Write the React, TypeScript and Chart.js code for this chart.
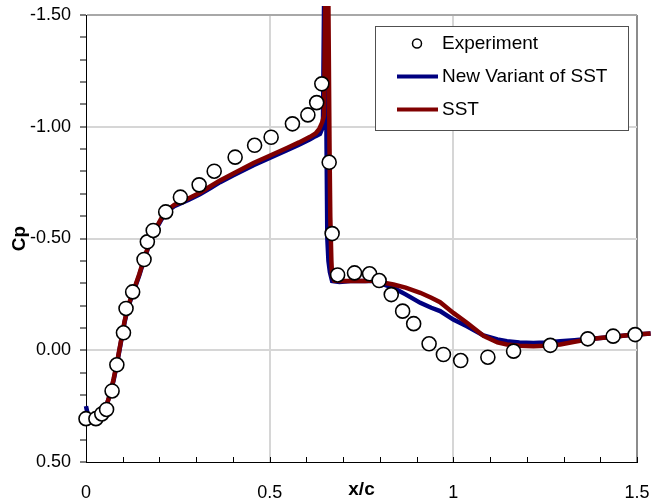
import React, { useEffect, useRef } from "react";
import { Chart, registerables } from "chart.js";

Chart.register(...registerables);

// ---- Data ----
const seriesLabels = ["Experiment", "New Variant of SST", "SST"];

const expX = [
  0.0, 0.027, 0.043, 0.056, 0.071, 0.084, 0.102, 0.109, 0.127, 0.158, 0.167,
  0.183, 0.217, 0.257, 0.308, 0.349, 0.406, 0.459, 0.504, 0.562, 0.604, 0.628,
  0.642, 0.662, 0.67, 0.685, 0.731, 0.772, 0.798, 0.831, 0.862, 0.892, 0.934,
  0.973, 1.02, 1.094, 1.164, 1.264, 1.366, 1.435, 1.495,
];
const expCp = [
  0.306, 0.306, 0.285, 0.265, 0.182, 0.065, -0.078, -0.187, -0.261, -0.406,
  -0.485, -0.536, -0.619, -0.685, -0.74, -0.801, -0.864, -0.917, -0.953, -1.013,
  -1.053, -1.108, -1.192, -0.841, -0.522, -0.337, -0.346, -0.342, -0.312,
  -0.249, -0.175, -0.119, -0.029, 0.019, 0.046, 0.031, 0.004, -0.022, -0.051,
  -0.063, -0.07,
];

const sstX = [
  0.0, 0.02, 0.04, 0.055, 0.065, 0.075, 0.085, 0.095, 0.105, 0.115, 0.13,
  0.145, 0.16, 0.175, 0.19, 0.205, 0.22, 0.24, 0.26, 0.28, 0.31, 0.34, 0.365,
  0.4, 0.456, 0.5, 0.547, 0.58, 0.61, 0.625, 0.635, 0.643, 0.648, 0.651, 0.66,
  0.663, 0.665, 0.668, 0.67, 0.676, 0.69, 0.72, 0.76, 0.78, 0.8, 0.837, 0.87,
  0.91, 0.94, 0.964, 1.0, 1.037, 1.082, 1.12, 1.146, 1.18, 1.218, 1.25, 1.291,
  1.33, 1.364, 1.4, 1.436, 1.48, 1.537,
];
const sstCp = [
  0.3, 0.305, 0.29, 0.25, 0.2, 0.13, 0.05, -0.04, -0.13, -0.2, -0.27, -0.34,
  -0.42, -0.49, -0.545, -0.59, -0.625, -0.65, -0.665, -0.68, -0.705, -0.735,
  -0.76, -0.79, -0.838, -0.87, -0.905, -0.93, -0.955, -0.97, -0.99, -1.02,
  -1.05, -1.53, -1.53, -0.9, -0.6, -0.4, -0.33, -0.312, -0.31, -0.31, -0.31,
  -0.312, -0.305, -0.294, -0.28, -0.257, -0.235, -0.215, -0.167, -0.123,
  -0.065, -0.035, -0.026, -0.02, -0.018, -0.02, -0.026, -0.038, -0.048, -0.055,
  -0.06, -0.068, -0.075,
];

const nvX = [
  0.0, 0.005, 0.02, 0.04, 0.055, 0.065, 0.075, 0.085, 0.095, 0.105, 0.115,
  0.13, 0.145, 0.16, 0.175, 0.19, 0.205, 0.22, 0.24, 0.26, 0.28, 0.31, 0.34,
  0.365, 0.4, 0.456, 0.5, 0.547, 0.58, 0.61, 0.625, 0.637, 0.645, 0.648, 0.652,
  0.655, 0.657, 0.66, 0.664, 0.67, 0.69, 0.72, 0.76, 0.78, 0.8, 0.837, 0.87,
  0.91, 0.94, 0.964, 1.0, 1.037, 1.082, 1.12, 1.146, 1.18, 1.218, 1.25, 1.291,
  1.33, 1.364, 1.4, 1.436, 1.48, 1.537,
];
const nvCp = [
  0.25, 0.29, 0.3, 0.285, 0.25, 0.2, 0.135, 0.055, -0.035, -0.125, -0.195,
  -0.265, -0.335, -0.415, -0.485, -0.54, -0.584, -0.619, -0.644, -0.659, -0.674,
  -0.698, -0.727, -0.752, -0.782, -0.828, -0.86, -0.895, -0.92, -0.944,
  -0.958, -0.968, -1.0, -1.53, -1.53, -0.9, -0.5, -0.4, -0.35, -0.31, -0.305,
  -0.31, -0.31, -0.31, -0.3, -0.279, -0.25, -0.212, -0.19, -0.175, -0.137,
  -0.107, -0.066, -0.048, -0.04, -0.035, -0.033, -0.035, -0.04, -0.045, -0.05,
  -0.055, -0.06, -0.068, -0.075,
];

const xRange = [0, 1.5];
const yRange = [-1.5, 0.5];
const minorStep = 0.1;
const majorStep = 0.5;

const FONT = "'Liberation Sans', Arial, sans-serif";
const NAVY = "#000080";
const MAROON = "#800000";

const isMajor = (v: number) =>
  Math.abs(Math.round(v / majorStep) * majorStep - v) < 1e-6;
const near = (a: number, b: number) => Math.abs(a - b) < 1e-6;

const toPts = (xs: number[], ys: number[]) =>
  xs.map((x, i) => ({ x, y: ys[i] }));

const innerTicks = {
  id: "innerTicks",
  beforeDatasetsDraw(chart: any) {
    const xs = chart.scales.x;
    const { ctx, chartArea } = chart;
    ctx.save();
    ctx.strokeStyle = "#000";
    ctx.lineWidth = 1;
    xs.ticks.forEach((t: any) => {
      const px = Math.round(xs.getPixelForValue(t.value)) + 0.5;
      ctx.beginPath();
      ctx.moveTo(px, chartArea.bottom);
      ctx.lineTo(px, chartArea.bottom - 5);
      ctx.stroke();
    });
    ctx.restore();
  },
};

const boxLegend = {
  id: "boxLegend",
  afterDraw(chart: any) {
    const { ctx, chartArea } = chart;
    const w = 253;
    const h = 104;
    const right = chartArea.right - 9;
    const top = chartArea.top + 11;
    const left = right - w;
    ctx.save();
    ctx.fillStyle = "#fff";
    ctx.fillRect(left, top, w, h);
    ctx.strokeStyle = "#505050";
    ctx.lineWidth = 1;
    ctx.strokeRect(Math.round(left) + 0.5, Math.round(top) + 0.5, w, h);
    const rows = [top + 17.5, top + 50.5, top + 83.5];
    const markX = left + 42;
    ctx.beginPath();
    ctx.arc(markX, rows[0], 4.5, 0, Math.PI * 2);
    ctx.fillStyle = "#fff";
    ctx.fill();
    ctx.strokeStyle = "#000";
    ctx.lineWidth = 1.5;
    ctx.stroke();
    [NAVY, MAROON].forEach((c, i) => {
      ctx.beginPath();
      ctx.moveTo(left + 22, rows[i + 1]);
      ctx.lineTo(left + 63, rows[i + 1]);
      ctx.strokeStyle = c;
      ctx.lineWidth = 4;
      ctx.stroke();
    });
    ctx.fillStyle = "#000";
    ctx.font = `19px ${FONT}`;
    ctx.textBaseline = "middle";
    ctx.textAlign = "left";
    seriesLabels.forEach((s, i) => {
      ctx.fillText(s, left + 67, rows[i]);
    });
    ctx.restore();
  },
};

export default function App() {
  const ref = useRef<HTMLCanvasElement | null>(null);

  useEffect(() => {
    if (!ref.current) return;
    const chart = new Chart(ref.current, {
      type: "scatter",
      data: {
        datasets: [
          {
            label: seriesLabels[0],
            data: toPts(expX, expCp),
            showLine: false,
            pointRadius: 7,
            pointBorderWidth: 1.6,
            pointBackgroundColor: "#fff",
            pointBorderColor: "#000",
            order: 0,
            clip: false as any,
          },
          {
            label: seriesLabels[1],
            data: toPts(nvX, nvCp),
            showLine: true,
            borderColor: NAVY,
            borderWidth: 4.5,
            pointRadius: 0,
            tension: 0,
            order: 2,
            clip: false as any,
          },
          {
            label: seriesLabels[2],
            data: toPts(sstX, sstCp),
            showLine: true,
            borderColor: MAROON,
            borderWidth: 4.5,
            pointRadius: 0,
            tension: 0,
            order: 1,
            clip: false as any,
          },
        ],
      },
      options: {
        animation: false,
        responsive: true,
        maintainAspectRatio: false,
        layout: { padding: { left: 0, top: 15, right: 15, bottom: 0 } },
        plugins: {
          legend: { display: false },
          tooltip: { enabled: false },
        },
        scales: {
          x: {
            type: "linear",
            min: xRange[0],
            max: xRange[1],
            ticks: {
              stepSize: minorStep,
              autoSkip: false,
              maxRotation: 0,
              padding: 20,
              color: "#000",
              font: { family: FONT, size: 18 },
              callback: (v: any) =>
                isMajor(Number(v)) ? String(Math.round(Number(v) * 10) / 10) : "",
            },
            grid: {
              drawTicks: false,
              lineWidth: 2,
              color: (c: any) => {
                const v = c.tick ? c.tick.value : NaN;
                if (near(v, xRange[1])) return "#8c8c8c";
                if (near(v, xRange[0])) return "rgba(0,0,0,0)";
                return isMajor(v) ? "#d6d6d6" : "rgba(0,0,0,0)";
              },
            },
            border: { color: "#000", width: 1 },
            title: {
              display: true,
              text: "x/c",
              color: "#000",
              font: { family: FONT, size: 19, weight: "bold" },
              padding: { top: 0, bottom: 3 },
            },
            afterFit: (s: any) => {
              s.height = 42;
              s.paddingLeft = 0;
              s.paddingRight = 0;
            },
          },
          y: {
            type: "linear",
            min: yRange[0],
            max: yRange[1],
            reverse: true,
            ticks: {
              stepSize: minorStep,
              autoSkip: false,
              padding: 9,
              color: "#000",
              font: { family: FONT, size: 18 },
              callback: (v: any) =>
                isMajor(Number(v)) ? (Math.round(Number(v) * 100) / 100 + 0).toFixed(2) : "",
            },
            grid: {
              tickLength: 6,
              tickColor: "#000",
              tickWidth: 1,
              lineWidth: 2,
              color: (c: any) => {
                const v = c.tick ? c.tick.value : NaN;
                if (near(v, yRange[0])) return "#a8a8a8";
                if (near(v, yRange[1])) return "rgba(0,0,0,0)";
                return isMajor(v) ? "#d6d6d6" : "rgba(0,0,0,0)";
              },
            },
            border: { color: "#000", width: 1 },
            title: {
              display: true,
              text: "Cp",
              color: "#000",
              font: { family: FONT, size: 19, weight: "bold" },
              padding: { top: 8, bottom: 0 },
            },
            afterFit: (s: any) => {
              s.width = 86;
              s.paddingTop = 0;
              s.paddingBottom = 0;
            },
          },
        },
      } as any,
      plugins: [innerTicks, boxLegend],
    });
    return () => chart.destroy();
  }, []);

  return (
    <div
      style={{
        position: "fixed",
        left: 0,
        top: 0,
        width: 652,
        height: 504,
        background: "#fff",
      }}
    >
      <canvas ref={ref} />
    </div>
  );
}
